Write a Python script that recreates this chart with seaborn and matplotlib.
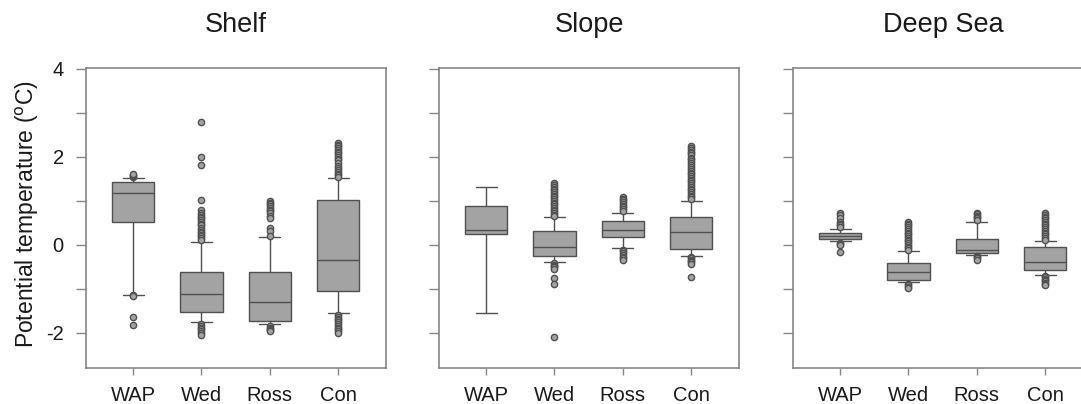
import numpy as np
import pandas as pd
import matplotlib
matplotlib.use("Agg")
import matplotlib.pyplot as plt
import seaborn as sns

sns.set_style("ticks")
plt.rcParams["font.family"] = ["Liberation Sans", "DejaVu Sans"]

categories = ["WAP", "Wed", "Ross", "Con"]
panels = ["Shelf", "Slope", "Deep Sea"]

# Five-number summaries per region: lower whisker, Q1, median, Q3, upper whisker
shelf_summary = [
    [-1.13, 0.53, 1.17, 1.43, 1.51],
    [-1.75, -1.53, -1.11, -0.62, 0.07],
    [-1.81, -1.73, -1.30, -0.61, 0.17],
    [-1.55, -1.06, -0.34, 1.01, 1.51],
]
slope_summary = [
    [-1.55, 0.25, 0.34, 0.88, 1.32],
    [-0.39, -0.25, -0.06, 0.31, 0.63],
    [-0.07, 0.17, 0.33, 0.54, 0.73],
    [-0.25, -0.10, 0.29, 0.63, 1.00],
]
deep_summary = [
    [0.08, 0.14, 0.20, 0.28, 0.37],
    [-0.85, -0.79, -0.61, -0.41, -0.14],
    [-0.23, -0.19, -0.11, 0.14, 0.53],
    [-0.69, -0.57, -0.38, -0.06, 0.08],
]

# Outlying observations per region
shelf_outliers = [
    [1.54, 1.56, 1.58, 1.60, -1.15, -1.17, -1.64, -1.82],
    [2.79, 2.00, 1.81, 1.02, 0.79, 0.72, 0.68, 0.64, 0.60, 0.56, 0.53, 0.48,
     0.44, 0.38, 0.34, 0.30, 0.26, 0.22, 0.19, 0.15, 0.11,
     -1.80, -1.84, -1.88, -1.92, -1.96, -2.00, -2.04],
    [1.00, 0.96, 0.92, 0.88, 0.84, 0.80, 0.76, 0.72, 0.66, 0.62, 0.38, 0.31, 0.20,
     -1.85, -1.88, -1.91, -1.94, -1.97],
    [2.32, 2.28, 2.24, 2.20, 2.16, 2.12, 2.08, 2.04, 2.00, 1.96, 1.92, 1.86,
     1.80, 1.74, 1.70, 1.66, 1.62, 1.58, 1.55,
     -1.60, -1.64, -1.68, -1.72, -1.76, -1.80, -1.84, -1.88, -1.92, -1.96, -2.00],
]
slope_outliers = [
    [],
    [1.40, 1.36, 1.32, 1.28, 1.24, 1.20, 1.16, 1.12, 1.08, 1.04, 1.00, 0.96,
     0.92, 0.88, 0.84, 0.80, 0.76, 0.72, 0.68, 0.65,
     -0.42, -0.45, -0.48, -0.51, -0.55, -0.75, -0.88, -2.09],
    [1.09, 1.05, 1.01, 0.97, 0.93, 0.89, 0.85, 0.81, 0.77,
     -0.11, -0.15, -0.19, -0.23, -0.27, -0.31, -0.35],
    [2.24, 2.20, 2.16, 2.12, 2.08, 2.04, 1.98, 1.94, 1.90, 1.86, 1.82, 1.76,
     1.72, 1.68, 1.64, 1.60, 1.56, 1.52, 1.48, 1.44, 1.40, 1.36, 1.32, 1.28,
     1.24, 1.20, 1.16, 1.12, 1.08, 1.04,
     -0.28, -0.31, -0.34, -0.37, -0.40, -0.44, -0.72],
]
deep_outliers = [
    [0.72, 0.68, 0.62, 0.52, 0.48, 0.44, 0.40, 0.05, 0.02, -0.01, -0.17],
    [0.52, 0.48, 0.44, 0.40, 0.36, 0.32, 0.28, 0.24, 0.20, 0.16, 0.12, 0.08,
     0.04, 0.00, -0.04, -0.08, -0.12, -0.88, -0.92, -0.95, -0.98],
    [0.72, 0.69, 0.66, 0.63, 0.60, 0.57, -0.25, -0.28, -0.31, -0.34],
    [0.72, 0.68, 0.64, 0.60, 0.56, 0.52, 0.48, 0.44, 0.40, 0.36, 0.32, 0.28,
     0.24, 0.20, 0.16, 0.12, -0.71, -0.74, -0.77, -0.80, -0.83, -0.86, -0.89, -0.91],
]

summaries = [shelf_summary, slope_summary, deep_summary]
outliers = [shelf_outliers, slope_outliers, deep_outliers]

y_ticks = [-2, -1, 0, 1, 2, 3, 4]
y_ticklabels = ["-2", "", "0", "", "2", "", "4"]
y_label = "Potential temperature ($^{\\mathrm{o}}$C)"

box_fill = "#a3a3a3"
edge = "#505050"
frame = "#868686"
text_color = "#1a1a1a"

W, H = 1081, 404
fig = plt.figure(figsize=(W / 100, H / 100), dpi=100)
lefts = [86, 439, 793]
ax_w, ax_h = 300, 300
ax_bottom = 36

for i, (name, summ, outs) in enumerate(zip(panels, summaries, outliers)):
    ax = fig.add_axes([lefts[i] / W, ax_bottom / H, ax_w / W, ax_h / H])
    box_df = pd.DataFrame(
        [(c, v) for c, vals in zip(categories, summ) for v in vals],
        columns=["region", "temp"],
    )
    out_df = pd.DataFrame(
        [(c, v) for c, vals in zip(categories, outs) for v in vals],
        columns=["region", "temp"],
    )
    sns.boxplot(
        data=box_df, x="region", y="temp", order=categories, ax=ax,
        whis=(0, 100), width=0.62, color=box_fill, linecolor=edge,
        linewidth=1.0, showfliers=False, saturation=1,
    )
    sns.stripplot(
        data=out_df, x="region", y="temp", order=categories, ax=ax,
        jitter=False, color=box_fill, edgecolor=edge, linewidth=1.0,
        size=4.5, marker="o", zorder=4,
    )
    ax.set_xlim(-0.69, 3.70)
    ax.set_ylim(-2.8, 4.02)
    ax.set_yticks(y_ticks)
    ax.set_xlabel("")
    ax.set_ylabel("")
    for side in ["left", "right", "top", "bottom"]:
        ax.spines[side].set_visible(True)
        ax.spines[side].set_color(frame)
        ax.spines[side].set_linewidth(1.2)
    ax.tick_params(axis="y", length=7, width=1, color=frame, pad=9,
                   labelsize=14.5, labelcolor=text_color)
    ax.tick_params(axis="x", length=5, width=1, color=frame, pad=8,
                   labelsize=14.5, labelcolor=text_color)
    if i == 0:
        ax.set_yticklabels(y_ticklabels)
    else:
        ax.set_yticklabels([])
    ax.set_title(name, fontsize=19.5, color=text_color, pad=26)

fig.text(27 / W, 1 - 214 / H, y_label, rotation=90, ha="center", va="center",
         fontsize=16.5, color=text_color)

fig.savefig("out.png", dpi=100)
